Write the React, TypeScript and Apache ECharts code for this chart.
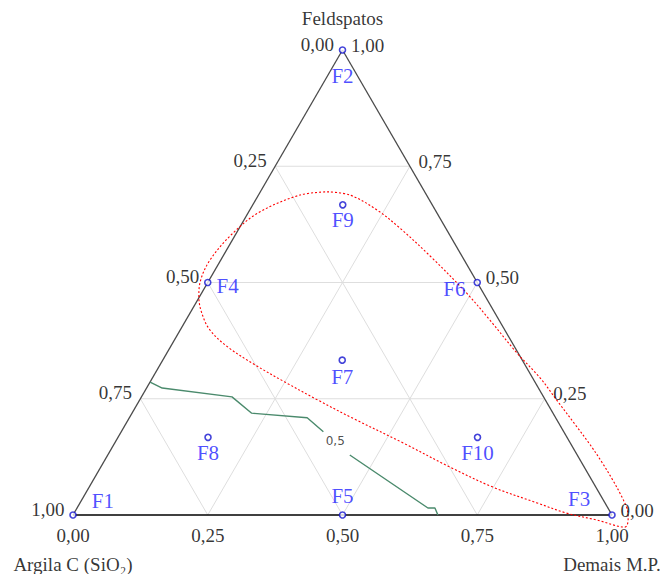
import { useEffect, useRef } from "react";
import * as echarts from "echarts";

// Vertex (component) names: Argila at bottom-left, Feldspatos at top, Demais at bottom-right
const nameArgila = "Argila C (SiO₂)";
const nameFeldspatos = "Feldspatos";
const nameDemais = "Demais M.P.";

// Formulations F1..F10 as mass fractions of the three components
const pointNames = ["F1", "F2", "F3", "F4", "F5", "F6", "F7", "F8", "F9", "F10"];
const pointArgila = [1, 0, 0, 0.5, 0.5, 0, 0.333, 0.667, 0.167, 0.167];
const pointFeldspatos = [0, 1, 0, 0.5, 0, 0.5, 0.333, 0.167, 0.667, 0.167];
const pointDemais = [0, 0, 1, 0, 0.5, 0.5, 0.333, 0.167, 0.167, 0.667];

// Axis ticks and interior grid lines
const tickValues = [0, 0.25, 0.5, 0.75, 1];
const gridValues = [0.25, 0.5, 0.75];

// Response contour (level 0,5), split around its label
const contourLevel = 0.5;
const contourADemais = [0.0, 0.029, 0.168, 0.222, 0.33, 0.375];
const contourAFeldspatos = [0.286, 0.273, 0.254, 0.219, 0.209, 0.179];
const contourBDemais = [0.449, 0.651, 0.664, 0.677];
const contourBFeldspatos = [0.129, 0.015, 0.015, 0.0];
const contourLabelDemais = 0.407;
const contourLabelFeldspatos = 0.159;

// Closed region boundary (dotted red)
const regionDemais = [
  0.124, 0.17, 0.236, 0.298, 0.384, 0.492, 0.564, 0.65, 0.719, 0.774, 0.835, 0.884, 0.924,
  0.964, 0.995, 1.02, 1.033, 1.037, 0.978, 0.914, 0.848, 0.749, 0.648, 0.535, 0.413, 0.331,
  0.25, 0.176, 0.107, 0.055, 0.022, -0.001, -0.014, -0.02, -0.006, 0.021, 0.077, 0.124,
];
const regionFeldspatos = [
  0.695, 0.688, 0.656, 0.617, 0.557, 0.477, 0.419, 0.348, 0.295, 0.247, 0.194, 0.151, 0.114,
  0.075, 0.043, 0.015, -0.006, -0.026, -0.011, 0.004, 0.026, 0.06, 0.103, 0.155, 0.209, 0.247,
  0.286, 0.323, 0.361, 0.398, 0.434, 0.469, 0.499, 0.548, 0.607, 0.652, 0.688, 0.695,
];

// Where each formulation's name sits relative to its marker
const pointLabelPlacement: Record<string, { position: string; distance: number; offset: number[] }> = {
  F1: { position: "right", distance: 15, offset: [0, -14] },
  F2: { position: "bottom", distance: 12, offset: [0, 0] },
  F3: { position: "left", distance: 18, offset: [0, -16] },
  F4: { position: "right", distance: 5, offset: [0, 3] },
  F5: { position: "top", distance: 5, offset: [0, 0] },
  F6: { position: "left", distance: 8, offset: [0, 6] },
  F7: { position: "bottom", distance: 3, offset: [0, 0] },
  F8: { position: "bottom", distance: 1, offset: [0, 0] },
  F9: { position: "bottom", distance: 1, offset: [0, 0] },
  F10: { position: "bottom", distance: 1, offset: [0, 0] },
};

const serif = "'Liberation Serif', 'Times New Roman', serif";
const fmt = (v: number) => v.toFixed(2).replace(".", ",");
// Ternary (Demais, Feldspatos) -> cartesian with Feldspatos as height
const xy = (d: number, f: number) => [d + f / 2, f];

// Plot extents leave a margin round the triangle so the region curve can pass outside it
const X_MIN = -0.1;
const X_MAX = 1.08;
const Y_MIN = -0.1;
const Y_MAX = 1;
const SIDE_PX = 539;
const HEIGHT_PX = 465;
const ORIGIN_X = 73;
const ORIGIN_Y = 515;

function lineSeries(data: number[][], color: string, width: number, extra: any = {}) {
  return {
    type: "line",
    data,
    symbol: "none",
    silent: true,
    clip: false,
    animation: false,
    lineStyle: { color, width, ...(extra.lineStyle || {}) },
    z: extra.z ?? 2,
    smooth: extra.smooth ?? false,
  };
}

function textSeries(points: number[][], texts: string[], label: any) {
  return {
    type: "scatter",
    data: points.map((p, i) => ({ value: p, label: { formatter: texts[i] } })),
    symbolSize: 1,
    itemStyle: { color: "rgba(0,0,0,0)" },
    silent: true,
    clip: false,
    z: 6,
    label: {
      show: true,
      fontFamily: serif,
      fontSize: 19,
      color: "#000",
      ...label,
    },
  };
}

export default function App() {
  const ref = useRef<HTMLDivElement>(null);

  useEffect(() => {
    if (!ref.current) return;
    const chart = echarts.init(ref.current, undefined, { renderer: "svg" });

    const series: any[] = [];

    // Light interior grid
    gridValues.forEach((v) => {
      series.push(lineSeries([xy(0, v), xy(1 - v, v)], "#dedede", 1, { z: 1 }));
      series.push(lineSeries([xy(v, 0), xy(v, 1 - v)], "#dedede", 1, { z: 1 }));
      series.push(lineSeries([xy(1 - v, 0), xy(0, 1 - v)], "#dedede", 1, { z: 1 }));
    });

    // Triangle edges
    series.push(lineSeries([xy(0, 0), xy(0, 1)], "#4a4a4a", 1.3, { z: 3 }));
    series.push(lineSeries([xy(1, 0), xy(0, 1)], "#4a4a4a", 1.3, { z: 3 }));
    series.push(lineSeries([xy(0, 0), xy(1, 0)], "#000000", 1.6, { z: 3 }));

    // Dotted region boundary
    series.push(
      lineSeries(
        regionDemais.map((d, i) => xy(d, regionFeldspatos[i])),
        "#ff0000",
        1.1,
        { z: 4, smooth: 0.35, lineStyle: { type: [2, 2] } }
      )
    );

    // Contour line
    series.push(
      lineSeries(contourADemais.map((d, i) => xy(d, contourAFeldspatos[i])), "#4a8a6c", 1.4, { z: 4 })
    );
    series.push(
      lineSeries(contourBDemais.map((d, i) => xy(d, contourBFeldspatos[i])), "#4a8a6c", 1.4, { z: 4 })
    );
    series.push(
      textSeries([xy(contourLabelDemais, contourLabelFeldspatos)], [contourLevel.toFixed(1).replace(".", ",")], {
        position: "inside",
        fontFamily: "'DejaVu Sans', sans-serif",
        fontSize: 12,
        color: "#222",
      })
    );

    // Tick labels: Argila along the left edge, Feldspatos along the right edge, Demais along the bottom
    series.push(
      textSeries(
        tickValues.map((a) => xy(0, 1 - a)),
        tickValues.map(fmt),
        { position: "left", distance: 8, offset: [0, -6] }
      )
    );
    series.push(
      textSeries(
        tickValues.map((f) => xy(1 - f, f)),
        tickValues.map(fmt),
        { position: "right", distance: 8, offset: [0, -5] }
      )
    );
    series.push(
      textSeries(
        tickValues.map((d) => xy(d, 0)),
        tickValues.map(fmt),
        { position: "bottom", distance: 10 }
      )
    );

    // Component names at the vertices
    series.push(textSeries([xy(0, 1)], [nameFeldspatos], { position: "top", distance: 22 }));
    series.push(textSeries([xy(0, 0)], [nameArgila], { position: "bottom", distance: 39 }));
    series.push(textSeries([xy(1, 0)], [nameDemais], { position: "bottom", distance: 39 }));

    // Formulation markers with their names
    series.push({
      type: "scatter",
      silent: true,
      clip: false,
      z: 7,
      symbol: "circle",
      symbolSize: 6,
      itemStyle: { color: "#ffffff", borderColor: "#1414d0", borderWidth: 1.6 },
      data: pointNames.map((n, i) => {
        const p = pointLabelPlacement[n];
        return {
          name: n,
          value: xy(pointDemais[i], pointFeldspatos[i]),
          argila: pointArgila[i],
          label: {
            show: true,
            formatter: n,
            position: p.position,
            distance: p.distance,
            offset: p.offset,
            fontFamily: serif,
            fontSize: 21,
            color: "#1f1fff",
          },
        };
      }),
    });

    chart.setOption({
      animation: false,
      grid: {
        left: ORIGIN_X + X_MIN * SIDE_PX,
        width: (X_MAX - X_MIN) * SIDE_PX,
        top: ORIGIN_Y - Y_MAX * HEIGHT_PX,
        height: (Y_MAX - Y_MIN) * HEIGHT_PX,
      },
      xAxis: { type: "value", min: X_MIN, max: X_MAX, show: false },
      yAxis: { type: "value", min: Y_MIN, max: Y_MAX, show: false },
      series,
    });

    return () => chart.dispose();
  }, []);

  return (
    <div
      ref={ref}
      style={{ position: "fixed", left: 0, top: 0, width: 662, height: 574, background: "#fff" }}
    />
  );
}
